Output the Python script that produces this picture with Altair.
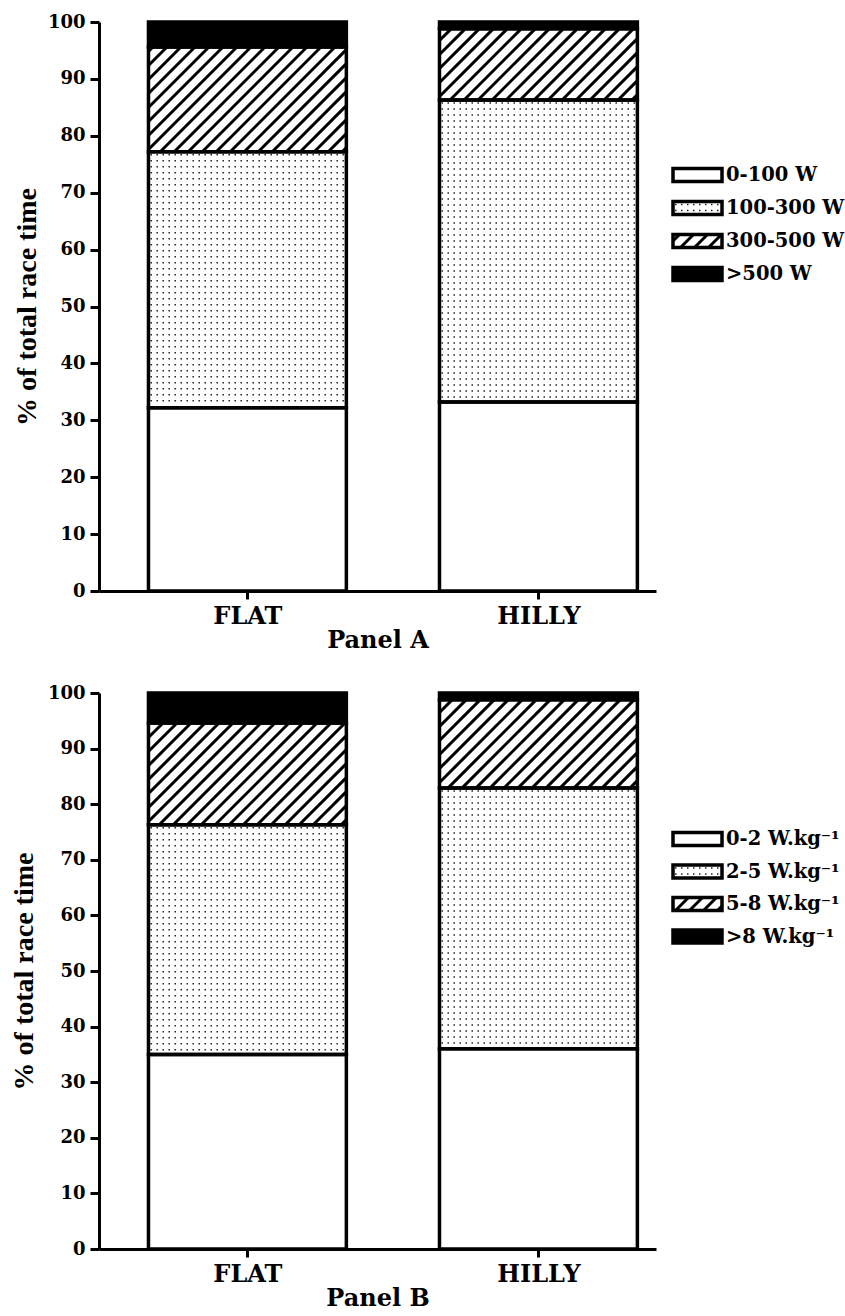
import json
import math
import altair as alt
import pandas as pd

# ---------------- data ----------------
categories = ["FLAT", "HILLY"]

zones_a = ["0-100 W", "100-300 W", "300-500 W", ">500 W"]
flat_a = [32.2, 45.0, 18.4, 4.4]
hilly_a = [33.2, 53.1, 12.5, 1.2]

zones_b = ["0-2 W.kg⁻¹", "2-5 W.kg⁻¹", "5-8 W.kg⁻¹", ">8 W.kg⁻¹"]
flat_b = [35.0, 41.3, 18.3, 5.4]
hilly_b = [36.0, 46.9, 15.9, 1.2]

y_ticks = [0, 10, 20, 30, 40, 50, 60, 70, 80, 90, 100]
panel_titles = ["Panel A", "Panel B"]
y_title = "% of total race time"

# fill style of each zone, in zone order
STYLES = ["plain", "dots", "hatch", "solid"]
STYLE_FILL = ["white", "white", "white", "black"]

# ---------------- layout / style constants ----------------
FONT = "DejaVu Serif"
TITLE_FONT = "Liberation Serif"
W = 557
H_A, H_B = 569, 556
X_MIN, X_MAX = -0.51, 1.404
BAR_HALF = 0.34
KX = W / (X_MAX - X_MIN)
HATCH = 14.0      # px between hatch lines (horizontal)
DOT_STEP = 6.0    # px between dot rows
LEG_X0, LEG_W, LEG_H, LEG_TEXT_X = 574, 49, 13, 627


def build_panel(zones, flat, hilly, height, title, leg_y0, leg_step, ytitle_pad):
    ky = height / 100.0

    def to_x(px):
        return X_MIN + px / KX

    def to_y(py):
        return py / ky

    rows = []
    for ci, vals in enumerate([flat, hilly]):
        base = 0.0
        for zi, v in enumerate(vals):
            rows.append({"x": ci - BAR_HALF, "x2": ci + BAR_HALF, "y": base,
                         "y2": base + v, "zone": zones[zi], "style": STYLES[zi]})
            base += v
    labels = []
    for zi, z in enumerate(zones):
        cy = leg_y0 + zi * leg_step
        rows.append({"x": to_x(LEG_X0), "x2": to_x(LEG_X0 + LEG_W),
                     "y": 100 - (cy + LEG_H / 2) / ky,
                     "y2": 100 - (cy - LEG_H / 2) / ky,
                     "zone": z, "style": STYLES[zi]})
        labels.append({"x": to_x(LEG_TEXT_X), "y": 100 - cy / ky, "label": z})

    dots, hatch = [], []
    for r in rows:
        x0 = (r["x"] - X_MIN) * KX
        x1 = (r["x2"] - X_MIN) * KX
        y0 = r["y"] * ky
        y1 = r["y2"] * ky
        if r["style"] == "dots":
            py = y1 - DOT_STEP / 2
            while py > y0 + 1:
                dots.append({"x": to_x(x0 + 2), "x2": to_x(x1 - 1), "y": to_y(py)})
                py -= DOT_STEP
        elif r["style"] == "hatch":
            k0 = math.ceil((x0 - y1) / HATCH)
            k1 = math.floor((x1 - y0) / HATCH)
            for k in range(k0, k1 + 1):
                d = k * HATCH
                sx, sy = d + y0, y0
                if sx < x0:
                    sx, sy = x0, x0 - d
                ex, ey = d + y1, y1
                if ex > x1:
                    ex, ey = x1, x1 - d
                if ex - sx > 0.5:
                    hatch.append({"x": to_x(sx), "x2": to_x(ex),
                                  "y": to_y(sy), "y2": to_y(ey)})

    xscale = alt.Scale(domain=[X_MIN, X_MAX], nice=False, zero=False)
    yscale = alt.Scale(domain=[0, 100], nice=False, zero=True)
    xaxis = alt.Axis(
        values=[0, 1], labelExpr=f"{json.dumps(categories)}[round(datum.value)]",
        title=title, grid=False, domainColor="black", domainWidth=3,
        tickColor="black", tickWidth=3, tickSize=8, labelPadding=5,
        labelFont=FONT, labelFontWeight="bold", labelFontSize=24, labelColor="black",
        titleFont=FONT, titleFontWeight="bold", titleFontSize=24, titleColor="black",
        titlePadding=0,
    )
    yaxis = alt.Axis(
        values=y_ticks, title=y_title, grid=False, domainColor="black", domainWidth=3,
        tickColor="black", tickWidth=3, tickSize=9, labelPadding=5,
        labelFont=FONT, labelFontWeight="bold", labelFontSize=18, labelColor="black",
        titleFont=TITLE_FONT, titleFontWeight="bold", titleFontSize=28, titleColor="black",
        titlePadding=ytitle_pad,
    )
    xs = alt.X("x:Q", scale=xscale, axis=xaxis)
    ys = alt.Y("y:Q", scale=yscale, axis=yaxis)

    fills = alt.Chart(pd.DataFrame(rows)).mark_rect(strokeWidth=0).encode(
        x=xs, x2="x2:Q", y=ys, y2="y2:Q",
        fill=alt.Fill("style:N", scale=alt.Scale(domain=STYLES, range=STYLE_FILL), legend=None),
    )
    dot_layer = alt.Chart(pd.DataFrame(dots)).mark_rule(
        strokeDash=[1.5, 4.5], strokeWidth=1.5, color="#222222"
    ).encode(x=xs, x2="x2:Q", y=ys)
    hatch_layer = alt.Chart(pd.DataFrame(hatch)).mark_rule(
        strokeWidth=3, color="black"
    ).encode(x=xs, x2="x2:Q", y=ys, y2="y2:Q")
    outline = alt.Chart(pd.DataFrame(rows)).mark_rect(
        fillOpacity=0, stroke="black", strokeWidth=3.5
    ).encode(x=xs, x2="x2:Q", y=ys, y2="y2:Q")
    texts = alt.Chart(pd.DataFrame(labels)).mark_text(
        align="left", baseline="middle", font=FONT, fontWeight="bold",
        fontSize=19.5, color="black"
    ).encode(x=xs, y=ys, text="label:N")

    return alt.layer(fills, dot_layer, hatch_layer, outline, texts).properties(
        width=W, height=height
    )


panel_a = build_panel(zones_a, flat_a, hilly_a, H_A, panel_titles[0], 153, 33, 6)
panel_b = build_panel(zones_b, flat_b, hilly_b, H_B, panel_titles[1], 146, 32.5, 9)

chart = (
    alt.vconcat(panel_a, panel_b, spacing=32)
    .properties(padding={"left": 10, "top": 13, "right": 0, "bottom": 0}, background="white")
    .configure_view(stroke=None)
)

chart.save("out.html", embed_options={"renderer": "svg", "actions": False})
